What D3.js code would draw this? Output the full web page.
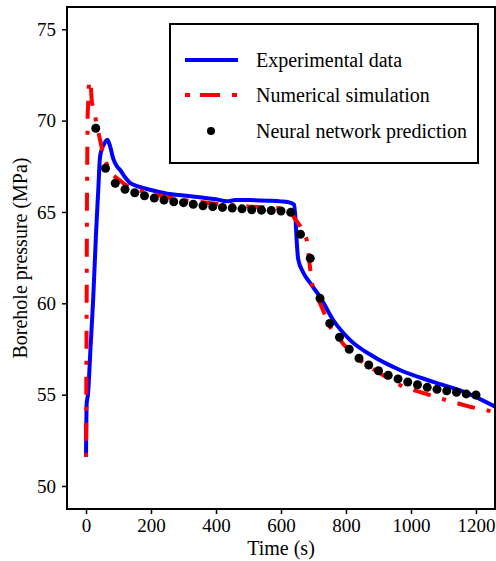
<!DOCTYPE html>
<html>
<head>
<meta charset="utf-8">
<script src="https://cdn.jsdelivr.net/npm/d3@7"></script>
<style>
  body { margin: 0; background: white; }
</style>
</head>
<body>
<svg id="chart"></svg>
<script>
var svg;
var serif = '"Liberation Serif", "Times New Roman", Times, "DejaVu Serif", serif';

// experimental data (time s, pressure MPa)
var expTime  = [0, 2, 6, 14, 22, 31, 38, 43, 48, 58, 66, 74, 84, 95, 105, 120, 135, 160, 200, 250, 300, 350, 400, 433, 460, 500, 560, 600, 630, 640, 645, 648, 653, 668, 690, 720, 760, 812, 883, 966, 1068, 1171, 1258];
var expPress = [51.6, 54.5, 55.0, 57.6, 60.2, 63.9, 66.3, 68.0, 68.4, 68.8, 68.95, 68.6, 67.9, 67.5, 67.3, 66.9, 66.6, 66.4, 66.2, 66.0, 65.9, 65.8, 65.7, 65.58, 65.65, 65.65, 65.62, 65.58, 65.5, 65.4, 64.5, 63.5, 62.4, 61.7, 61.1, 60.36, 59.1, 58.0, 57.1, 56.35, 55.7, 55.1, 54.35];

// numerical simulation
var simTime  = [0, 2, 3, 5, 9, 12, 15, 18, 25, 35, 45, 56, 70, 83, 120, 150, 200, 250, 300, 400, 500, 600, 630, 640, 660, 679, 689, 697, 725, 753, 794, 853, 923, 976, 1046, 1114, 1185, 1258];
var simPress = [51.6, 60.0, 66.0, 70.3, 72.0, 72.2, 71.8, 71.0, 70.5, 69.6, 68.8, 67.9, 67.4, 67.02, 66.5, 66.25, 66.0, 65.8, 65.65, 65.45, 65.3, 65.2, 65.1, 64.7, 64.2, 63.5, 62.0, 60.95, 59.8, 58.65, 57.72, 56.73, 55.97, 55.43, 55.04, 54.67, 54.32, 54.05];

// neural network prediction
var nnTime  = [30, 60, 90, 120, 150, 180, 210, 240, 270, 300, 330, 360, 390, 420, 450, 480, 510, 540, 570, 600, 630, 660, 690, 720, 750, 780, 810, 840, 870, 900, 930, 960, 990, 1020, 1050, 1080, 1110, 1140, 1170, 1200];
var nnPress = [69.58, 67.39, 66.57, 66.24, 66.05, 65.89, 65.76, 65.65, 65.56, 65.51, 65.42, 65.34, 65.29, 65.25, 65.22, 65.17, 65.12, 65.1, 65.08, 65.05, 64.98, 63.78, 62.46, 60.27, 58.9, 58.14, 57.48, 56.99, 56.62, 56.31, 56.06, 55.86, 55.69, 55.54, 55.4, 55.29, 55.21, 55.13, 55.04, 54.98];

var xTicks = [0, 200, 400, 600, 800, 1000, 1200];
var yTicks = [50, 55, 60, 65, 70, 75];
var legendLabels = ["Experimental data", "Numerical simulation", "Neural network prediction"];

document.addEventListener('DOMContentLoaded', () => {
    svg = d3.select('#chart').attr('width', 496).attr('height', 561);
    drawChart();
});

function drawChart() {
    var left = 67, right = 495, top = 7, bottom = 509;

    var x = d3.scaleLinear().domain([-58.5, 1258.5]).range([left, right]);
    var y = d3.scaleLinear().domain([48.74, 76.22]).range([bottom, top]);

    var zip = (a, b) => a.map((d, i) => [d, b[i]]);
    var line = d3.line().x(d => x(d[0])).y(d => y(d[1]));

    var plot = svg.append('g');
    plot.append('defs').append('clipPath').attr('id', 'clip')
        .append('rect').attr('x', left).attr('y', top)
        .attr('width', right - left).attr('height', bottom - top);

    var curves = plot.append('g').attr('clip-path', 'url(#clip)');

    curves.append('path')
        .datum(zip(expTime, expPress))
        .attr('d', line.curve(d3.curveMonotoneX))
        .attr('fill', 'none')
        .attr('stroke', '#0000ff')
        .attr('stroke-width', 4)
        .attr('stroke-linejoin', 'round');

    curves.append('path')
        .datum(zip(simTime, simPress))
        .attr('d', line.curve(d3.curveLinear))
        .attr('fill', 'none')
        .attr('stroke', '#ff0000')
        .attr('stroke-width', 4)
        .attr('stroke-dasharray', '4,12,18,12');

    curves.selectAll('.nn')
        .data(zip(nnTime, nnPress))
        .enter()
        .append('circle')
        .attr('class', 'nn')
        .attr('cx', d => x(d[0]))
        .attr('cy', d => y(d[1]))
        .attr('r', 4.5)
        .attr('fill', 'black');

    // axes
    var xAxis = plot.append('g')
        .attr('transform', 'translate(0,' + bottom + ')')
        .call(d3.axisBottom(x).tickValues(xTicks).tickFormat(d3.format('d'))
              .tickSize(5).tickSizeOuter(0).tickPadding(5));
    var yAxis = plot.append('g')
        .attr('transform', 'translate(' + left + ',0)')
        .call(d3.axisLeft(y).tickValues(yTicks).tickFormat(d3.format('d'))
              .tickSize(5).tickSizeOuter(0).tickPadding(6));
    [xAxis, yAxis].forEach(a => {
        a.attr('font-family', serif);
        a.select('.domain').remove();
        a.selectAll('line').attr('stroke', 'black').attr('stroke-width', 1.5);
        a.selectAll('text').attr('fill', 'black')
            .style('font-family', serif).style('font-size', '19px');
    });

    plot.append('rect')
        .attr('x', left).attr('y', top)
        .attr('width', right - left).attr('height', bottom - top)
        .attr('fill', 'none').attr('stroke', 'black').attr('stroke-width', 2);

    svg.append('text')
        .attr('x', (left + right) / 2)
        .attr('y', 555)
        .attr('text-anchor', 'middle')
        .style('font-family', serif)
        .style('font-size', '20px')
        .text('Time (s)');

    svg.append('text')
        .attr('transform', 'translate(27,' + ((top + bottom) / 2) + ')rotate(-90)')
        .attr('text-anchor', 'middle')
        .style('font-family', serif)
        .style('font-size', '20px')
        .text('Borehole pressure (MPa)');

    // legend
    var lg = svg.append('g');
    lg.append('rect')
        .attr('x', 170).attr('y', 24).attr('width', 308).attr('height', 139)
        .attr('fill', 'white').attr('stroke', 'black').attr('stroke-width', 2);

    var rowY = [60, 95, 131];
    lg.append('line').attr('x1', 185).attr('x2', 238).attr('y1', rowY[0]).attr('y2', rowY[0])
        .attr('stroke', '#0000ff').attr('stroke-width', 4);
    lg.append('line').attr('x1', 185).attr('x2', 238).attr('y1', rowY[1]).attr('y2', rowY[1])
        .attr('stroke', '#ff0000').attr('stroke-width', 4).attr('stroke-dasharray', '5,10,20,12');
    lg.append('circle').attr('cx', 211).attr('cy', rowY[2]).attr('r', 4).attr('fill', 'black');

    lg.selectAll('.lgtext')
        .data(legendLabels)
        .enter()
        .append('text')
        .attr('class', 'lgtext')
        .attr('x', 256)
        .attr('y', (d, i) => rowY[i] + 7)
        .style('font-family', serif)
        .style('font-size', '20px')
        .text(d => d);
}
</script>
</body>
</html>
